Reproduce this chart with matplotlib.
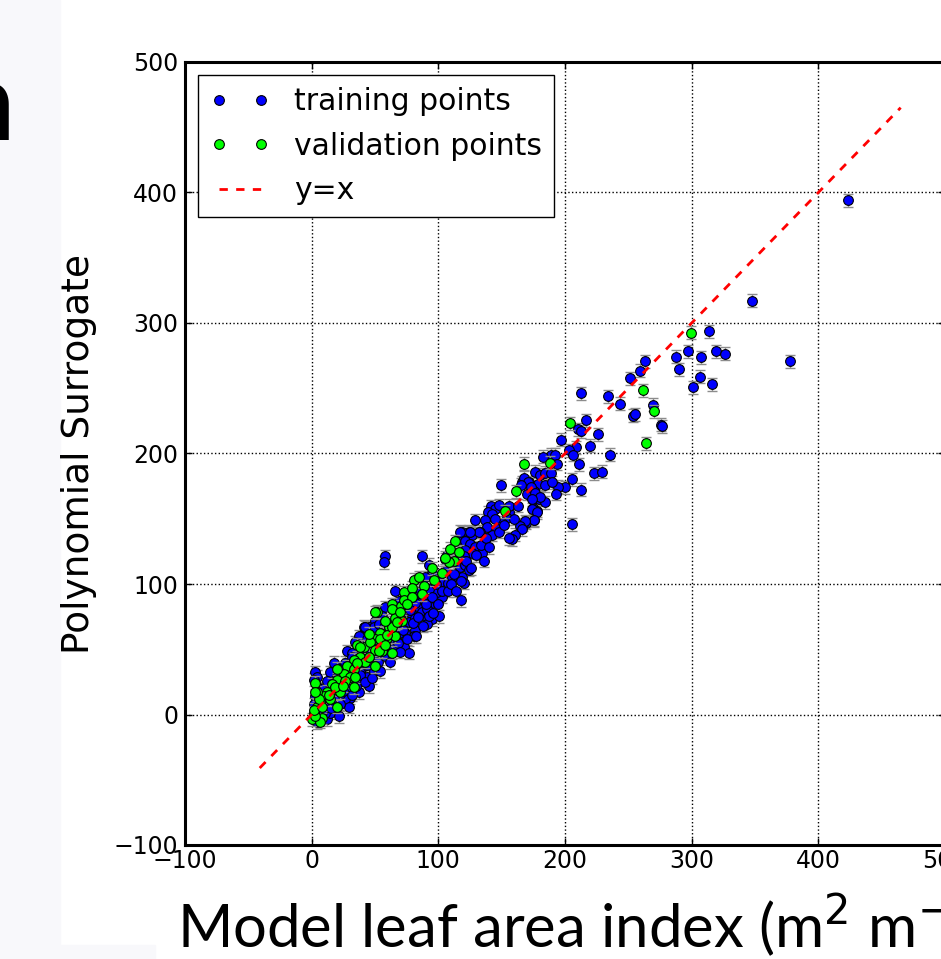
import numpy as np
import matplotlib
matplotlib.use("Agg")
import matplotlib.pyplot as plt
from matplotlib.patches import Rectangle

# training points (model LAI, surrogate LAI)
train_x = [423.7, 347.8, 377.9, 313.8, 287.7, 297.2, 307.5, 319.4, 326.5, 290.1, 306.7, 301.2, 316.2,
           263.2, 259.3, 251.4, 234.0, 243.5, 269.6, 253.8, 255.3, 275.9, 276.7, 235.6, 212.6, 216.6,
           210.3, 212.6, 226.1, 219.8, 208.7, 203.2, 206.3, 211.1, 196.8, 222.9, 229.2, 205.5, 212.6,
           205.5, 200.0, 194.5, 192.9, 188.9, 192.1, 182.6, 193.7, 176.3, 180.2, 184.2, 188.9, 171.5,
           178.7, 184.2, 189.7, 175.5, 170.0, 179.4, 184.2, 174.7, 177.9, 175.5, 169.2, 166.8, 166.0,
           167.6, 170.8, 165.2, 173.1, 149.4, 176.3, 180.2, 173.9, 141.5, 144.7, 147.8, 139.1, 142.3,
           155.7, 154.2, 150.2, 146.2, 142.3, 136.8, 138.3, 132.8, 128.9, 173.9, 177.9, 175.5, 168.4,
           164.4, 166.0, 160.5, 158.1, 155.7, 126.5, 124.1, 118.6, 117.0, 121.0, 124.9, 128.9, 134.4,
           126.5, 121.0, 106.7, 105.1, 115.4, 120.2, 117.0, 121.0, 132.0, 117.0, 124.9,
           57.7, 56.9, 87.0, 117.8, 92.5, 94.9, 89.3, 101.2, 107.5, 110.7, 118.6, 120.2, 102.8, 98.8,
           81.4, 92.5, 92.5, 84.6, 76.7, 73.5, 68.8, 65.6, 71.1, 79.1, 83.0, 87.0, 90.9, 94.9, 57.7,
           55.3, 49.8, 45.1, 41.9, 56.9, 67.2, 76.7, 81.4, 73.5, 67.2, 92.5, 93.3, 90.9, 100.4, 124.1,
           2.4, 4.0, 1.6, 41.1, 45.1, 49.0, 53.0, 56.9, 43.5, 37.2, 27.7, 31.6, 35.6, 41.1, 45.8, 51.4,
           56.9, 61.7, 17.4, 22.1, 14.2, 19.8, 37.9, 43.5, 49.0, 11.9, 4.0, 14.2, 25.3, 30.0,
           65.6, 73.5, 81.4, 90.9, 92.5, 81.4, 41.9, 34.0, 43.5, 55.3, 68.8, 57.7, 65.6, 72.7, 76.7,
           80.6, 26.1, 31.6, 21.3, 10.3, 18.2, 26.1, 37.2, 45.1, 29.2, 21.3,
           5.0, 8.0, 3.0, 6.0, 10.0, 12.0, 15.0, 20.0, 24.0, 28.0, 32.0, 36.0, 8.0, 2.0, 16.0, 22.0,
           30.0, 34.0, 38.0, 26.0,
           10.0, 12.0, 15.0, 18.0, 22.0, 25.0, 28.0, 30.0, 32.0, 35.0, 38.0, 40.0, 42.0, 44.0, 46.0,
           48.0, 50.0, 52.0, 54.0, 58.0, 60.0, 62.0, 64.0, 66.0, 68.0, 70.0, 72.0, 75.0, 78.0, 80.0,
           82.0, 84.0, 86.0, 88.0, 90.0, 95.0, 96.0, 98.0, 100.0, 103.0, 105.0, 108.0, 110.0, 112.0,
           114.0, 116.0, 118.0, 122.0, 126.0, 130.0, 134.0, 136.0, 138.0, 140.0, 145.0, 148.0, 152.0,
           156.0, 160.0, 163.0]
train_y = [393.9, 317.2, 270.5, 293.5, 274.3, 278.2, 273.6, 278.2, 276.6, 264.4, 259.0, 250.6, 252.9,
           270.5, 263.6, 257.5, 243.7, 238.3, 237.5, 229.1, 229.9, 222.2, 220.7, 199.2, 246.0, 225.3,
           218.4, 216.9, 214.6, 206.1, 204.6, 202.3, 199.2, 191.6, 210.7, 184.7, 186.2, 180.1, 172.4,
           145.6, 174.0, 174.7, 169.3, 199.2, 199.2, 197.7, 192.3, 186.2, 183.9, 185.4, 184.7, 177.8,
           177.0, 175.5, 177.8, 170.9, 169.3, 165.5, 162.5, 157.9, 156.3, 148.7, 147.1, 145.6, 177.8,
           181.6, 177.8, 176.2, 174.0, 175.5, 170.1, 166.3, 164.8, 159.4, 157.1, 160.2, 154.8, 153.3,
           154.8, 150.2, 147.1, 142.5, 137.9, 148.7, 143.3, 140.2, 148.7, 157.1, 154.8, 149.4, 147.9,
           144.8, 141.8, 137.9, 134.1, 134.9, 137.9, 140.2, 139.5, 134.1, 132.6, 131.0, 128.0, 123.4,
           124.1, 126.4, 122.6, 118.8, 117.2, 121.1, 113.4, 114.9, 140.2, 140.2, 139.5,
           121.1, 116.5, 121.1, 87.4, 114.9, 108.8, 105.0, 101.9, 101.1, 105.7, 105.7, 101.1, 90.4, 93.5,
           90.4, 95.8, 88.1, 85.8, 86.6, 82.8, 86.6, 80.5, 78.2, 76.6, 82.8, 78.9, 74.3, 72.8, 82.0,
           75.1, 71.3, 66.7, 63.6, 70.5, 67.4, 70.5, 65.1, 62.8, 59.8, 82.8, 78.9, 69.0, 75.1, 111.1,
           32.2, 29.1, 26.8, 67.4, 65.1, 67.4, 69.0, 66.7, 61.3, 59.8, 48.3, 47.5, 42.1, 36.8, 44.4, 42.1,
           47.5, 52.1, 39.8, 34.5, 32.2, 29.1, 32.2, 29.1, 33.0, -3.8, -6.1, 1.5, 10.0, 13.0,
           94.3, 90.4, 85.8, 80.5, 75.1, 74.3, 66.7, 55.2, 57.5, 62.8, 62.8, 56.0, 57.5, 52.1, 47.5,
           59.8, 39.8, 44.4, 34.5, 1.5, 6.1, 11.5, 16.9, 21.5, 6.1, -1.5,
           5.0, 10.0, 14.0, 20.0, 8.0, 14.0, 18.0, 22.0, 26.0, 22.0, 28.0, 25.0, 2.0, 8.0, 10.0, 16.0,
           20.0, 35.0, 40.0, 30.0,
           20.0, 26.0, 5.0, 12.0, 8.0, 18.0, 30.0, 38.0, 15.0, 22.0, 30.0, 45.0, 25.0, 38.0, 50.0,
           28.0, 55.0, 40.0, 33.0, 45.0, 60.0, 40.0, 50.0, 72.0, 55.0, 48.0, 65.0, 58.0, 80.0, 70.0,
           60.0, 75.0, 95.0, 68.0, 85.0, 90.0, 78.0, 100.0, 85.0, 95.0, 110.0, 95.0, 100.0, 108.0,
           95.0, 120.0, 102.0, 118.0, 112.0, 122.0, 130.0, 118.0, 135.0, 128.0, 150.0, 140.0, 145.0,
           160.0, 150.0, 160.0]

# validation points
valid_x = [299.6, 261.7, 270.4, 264.0, 204.0, 188.1, 167.6, 161.3, 152.6, 113.0, 109.1, 116.2, 112.3,
           108.3, 102.8, 96.4, 80.6, 88.5, 87.0, 72.7, 63.2, 70.4, 51.4, 65.6, 60.9, 71.1, 53.8, 59.3,
           65.6, 49.8, 41.1, 35.6, 45.8, 53.8, 59.3, 63.2, 67.2, 49.8, 55.3, 37.9, 41.9, 33.2, 27.7,
           33.2, 25.3, 30.0, 19.8, 15.8, 17.4, 11.9, 9.5, 4.0, 2.4, 6.3, 4.0, 1.6, 7.9, 0.0, 14.2, 22.1,
           33.2, 19.8, 79.1, 72.7, 63.2, 49.8, 69.6, 79.1, 35.6, 45.1, 53.0, 57.7, 63.2, 49.8, 34.0,
           26.1, 18.2, 13.4, 6.3, 2.4, 1.6, 7.9, 5.5, 2.4,
           20.0, 25.0, 38.0, 45.0, 58.0, 75.0, 85.0, 95.0, 105.0]
valid_y = [292.7, 248.3, 232.2, 207.7, 223.0, 193.1, 192.3, 170.9, 155.6, 132.6, 127.2, 124.9, 118.0,
           116.5, 108.8, 103.4, 103.4, 98.1, 92.0, 93.5, 84.3, 82.8, 78.9, 74.3, 66.7, 71.3, 62.8, 59.0,
           59.8, 57.5, 52.1, 53.6, 55.2, 57.5, 61.3, 66.7, 70.5, 49.8, 48.3, 44.4, 40.6, 42.1, 36.8,
           34.5, 30.7, 28.4, 26.8, 23.0, 19.2, 17.6, 13.8, 16.9, 24.5, 9.2, 5.4, 1.5, -2.3, -3.8, 11.5,
           16.9, 20.7, 6.1, 97.3, 88.1, 80.5, 78.2, 78.9, 90.4, 39.8, 44.4, 48.3, 53.6, 47.5, 36.8,
           29.1, 25.3, 20.7, 15.3, -5.4, -1.5, 3.8, 6.1, 11.5, 17.6,
           35.0, 22.0, 52.0, 62.0, 72.0, 85.0, 105.0, 112.0, 120.0]

err = 5.0                  # surrogate std-dev (roughly constant)
line_range = [-41, 465]    # extent of y=x reference line

W, H = 941, 959
fig = plt.figure(figsize=(W / 100, H / 100), dpi=100)
fig.patch.set_facecolor('white')

# slide background strips
bg = '#f8f8fb'
fig.add_artist(Rectangle((0, 0), 60 / W, 1, transform=fig.transFigure, color=bg, zorder=0))
fig.add_artist(Rectangle((0, 0), 155 / W, (H - 945) / H, transform=fig.transFigure, color=bg, zorder=0))
fig.text(15 / W, 1 - 140 / H, 'n', fontsize=80, family='Lato', ha='right', va='baseline')

ax = fig.add_axes([185 / W, 1 - 845 / H, 760 / W, 783 / H])

ax.errorbar(train_x, train_y, yerr=err, fmt='none', ecolor='0.55', elinewidth=1, capsize=3.5, zorder=2)
ax.plot(train_x, train_y, 'o', color='b', mec='k', mew=0.8, ms=7, label='training points', zorder=3)
ax.errorbar(valid_x, valid_y, yerr=err, fmt='none', ecolor='0.55', elinewidth=1, capsize=3.5, zorder=4)
ax.plot(valid_x, valid_y, 'o', color='#00ff00', mec='k', mew=0.8, ms=7, label='validation points', zorder=5)
ax.plot(line_range, line_range, color='r', lw=2, linestyle=(0, (3, 3)), label='y=x', zorder=6)

ax.set_xlim(-100, 500)
ax.set_ylim(-100, 500)
ax.set_xticks(np.arange(-100, 501, 100))
ax.set_yticks(np.arange(-100, 501, 100))
ax.grid(True, color='k', linestyle=':', linewidth=1)
for s in ax.spines.values():
    s.set_linewidth(2.2)
ax.tick_params(direction='in', top=True, right=True, length=5, width=1, labelsize=17)
ax.tick_params(axis='x', pad=3)
ax.tick_params(axis='y', pad=5)

ax.set_ylabel('Polynomial Surrogate', fontsize=27)
ax.yaxis.set_label_coords(-0.116, 0.5)

leg = ax.legend(loc='upper left', numpoints=2, fontsize=21.5, fancybox=False, framealpha=1,
                edgecolor='k', borderaxespad=0.45, borderpad=0.4, handlelength=2.0,
                handletextpad=0.8, labelspacing=0.52)
leg.get_frame().set_linewidth(1)

fig.text(177 / W, 1 - 948 / H, 'Model leaf area index (m$^{2}$ m$^{\\mathrm{-}2}$)', fontsize=43,
         family='Lato', ha='left', va='baseline')

fig.savefig('out.png', dpi=100)
